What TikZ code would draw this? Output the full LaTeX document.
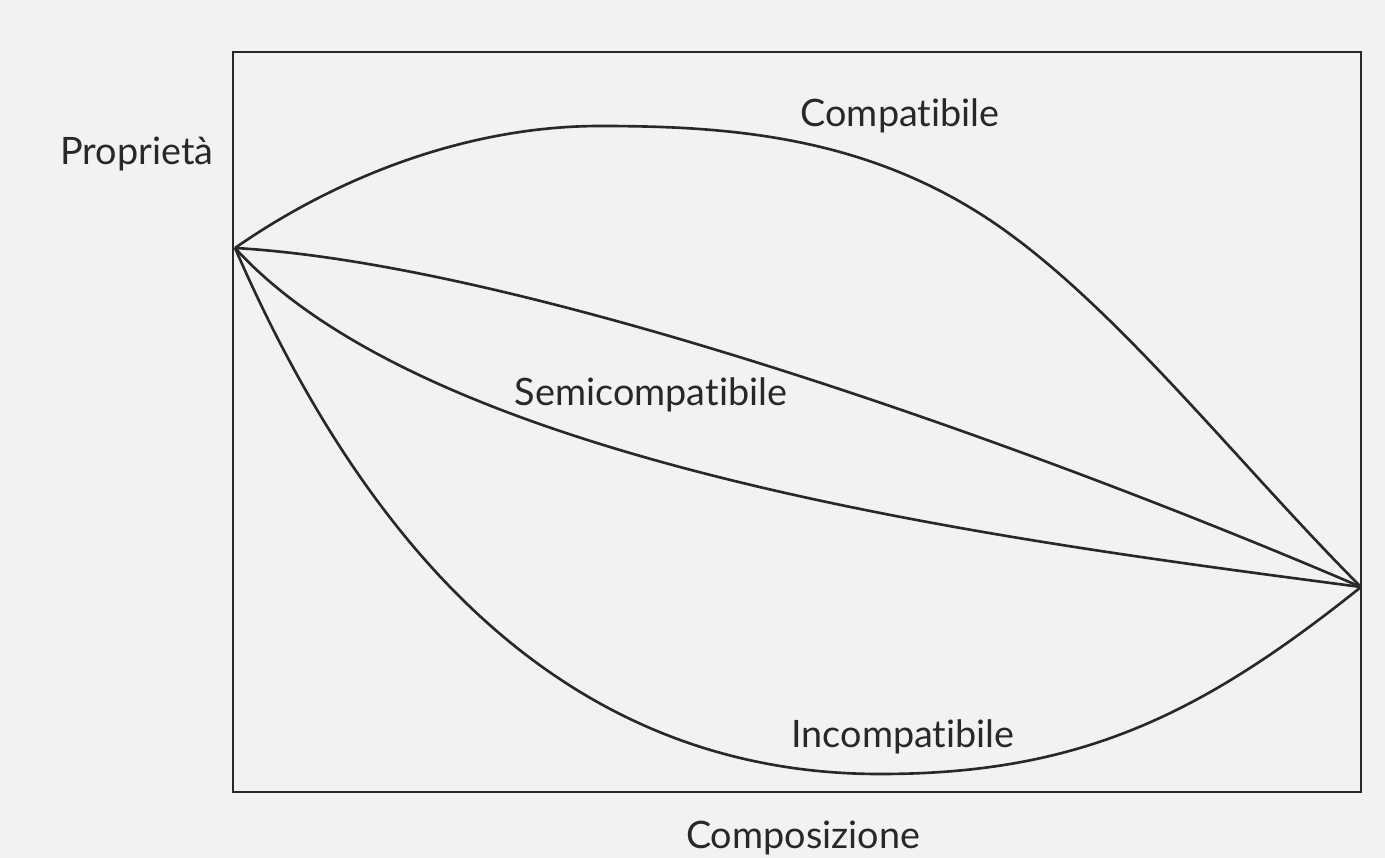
\documentclass[tikz,border=0pt]{standalone}
\usepackage{fontspec}
\setmainfont{Lato}[Ligatures=NoCommon]
\usepackage{tikz}
\usetikzlibrary{positioning, calc}

\definecolor{inkgray}{RGB}{40,40,40}
\definecolor{paper}{RGB}{242,242,241}

\begin{document}
\begin{tikzpicture}[x=0.02cm, y=-0.02cm,
  frame/.style={line width=1.6pt, draw=inkgray},
  curve/.style={line width=1.5pt, draw=inkgray, line join=round},
  lbl/.style={font=\fontsize{21.5}{25}\selectfont, text=inkgray, anchor=base, inner sep=0pt}
]
  % page background
  \fill[paper] (0,0) rectangle (1385,858);
  \useasboundingbox (0,0) rectangle (1385,858);

  % diagram frame
  \draw[frame] (233,52) rectangle (1361,792);

  % end points of the curves
  \coordinate (p) at (235,248);
  \coordinate (r) at (1361,587);
  \coordinate (ctop) at (600,126);
  \coordinate (cmid) at (1000,227);
  \coordinate (ibot) at (880,774);

  % compatibile
  \draw[curve] (p) .. controls (340,175) and (470,126) .. (ctop)
               .. controls (730,126) and (870,136) .. (cmid)
               .. controls (1120,311) and (1241,467) .. (r);
  % semicompatibile (two bounds)
  \draw[curve] (p) .. controls (535,265) and (1061,458) .. (r);
  \draw[curve] (p) .. controls (435,468) and (1011,541) .. (r);
  % incompatibile
  \draw[curve] (p) .. controls (375,570) and (580,774) .. (ibot)
               .. controls (1080,774) and (1201,715) .. (r);

  % labels
  \node[lbl] (prop) at (137,165) {Proprietà};
  \node[lbl] (comp) at (900,127) {Compatibile};
  \node[lbl] (semi) at (651,405) {Semicompatibile};
  \node[lbl] (inco) at (903,747) {Incompatibile};
  \node[lbl] (cmps) at (803,848) {Composizione};
\end{tikzpicture}
\end{document}
